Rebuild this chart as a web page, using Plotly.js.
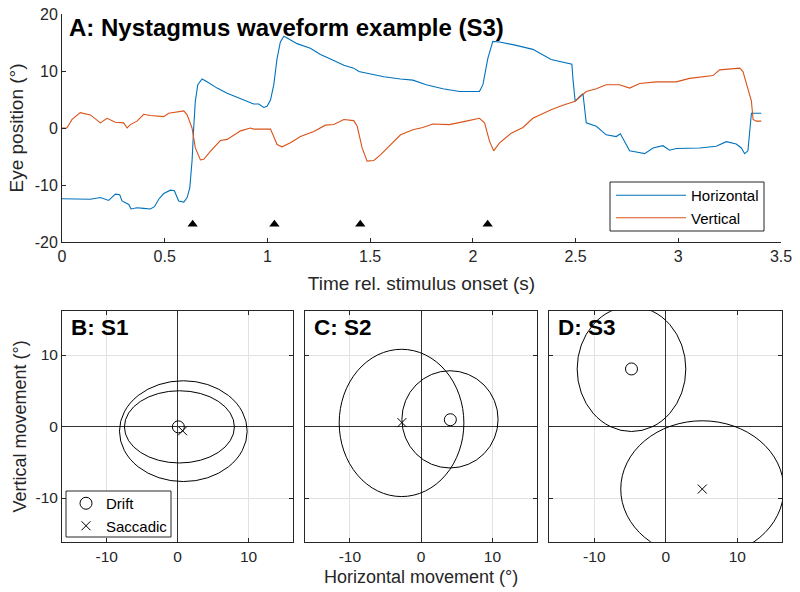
<!DOCTYPE html>
<html>
<head>
<meta charset="utf-8">
<script src="https://cdn.plot.ly/plotly-3.0.1.min.js"></script>
<style>html,body{margin:0;padding:0;background:#fff;}#chart{width:800px;height:592px;}</style>
</head>
<body>
<div id="chart"></div>
<script>
// ---------- Panel A: waveform ----------
const timeH = [
  0, 0.138, 0.187, 0.227, 0.26, 0.281, 0.292, 0.325, 0.336, 0.365,
  0.398, 0.43, 0.45, 0.471, 0.495, 0.528, 0.547, 0.568, 0.593, 0.609,
  0.622, 0.633, 0.641, 0.649, 0.661, 0.682, 0.706, 0.755, 0.804, 0.869,
  0.933, 0.958, 0.982, 0.998, 1.015, 1.031, 1.047, 1.063, 1.08, 1.096,
  1.144, 1.209, 1.258, 1.307, 1.372, 1.42, 1.445, 1.485, 1.567, 1.648,
  1.708, 1.773, 1.854, 1.935, 2.032, 2.049, 2.073, 2.097, 2.13, 2.211,
  2.292, 2.381, 2.482, 2.487, 2.498, 2.519, 2.536, 2.552, 2.601, 2.649,
  2.698, 2.718, 2.739, 2.763, 2.795, 2.836, 2.877, 2.909, 2.925, 2.958,
  2.99, 3.104, 3.185, 3.234, 3.282, 3.307, 3.323, 3.339, 3.356, 3.404
];
const horizontal = [
  -12.4, -12.5, -12.2, -12.7, -11.6, -11.7, -12.8, -13.4, -14.2, -14.0,
  -14.1, -14.2, -13.8, -12.5, -11.5, -10.9, -11.0, -12.8, -13.0, -12.2,
  -10.5, -5.8, 0, 4.7, 7.6, 8.6, 8.1, 7.0, 6.1, 5.2,
  4.2, 4.2, 3.6, 3.8, 4.9, 7.6, 12.2, 15.1, 16.1, 15.8,
  14.8, 14.0, 12.9, 12.1, 11.0, 10.5, 9.9, 9.6, 9.0, 8.6,
  8.4, 7.6, 6.9, 6.4, 6.4, 7.6, 12.2, 15.2, 15.1, 14.5,
  13.8, 12.0, 11.2, 8.7, 4.7, 5.5, 6.0, 0.9, 0.3, -1.2,
  -1.5, -1.0, -2.3, -4.0, -4.2, -4.5, -3.5, -3.3, -3.1, -3.9,
  -3.6, -3.5, -3.2, -2.4, -2.8, -3.5, -4.5, -4.0, 2.6, 2.6
];
const timeV = [
  0, 0.024, 0.049, 0.089, 0.138, 0.187, 0.219, 0.26, 0.3, 0.317,
  0.333, 0.365, 0.398, 0.43, 0.495, 0.519, 0.593, 0.609, 0.633, 0.649,
  0.674, 0.69, 0.722, 0.771, 0.804, 0.836, 0.869, 0.917, 0.933, 1.015,
  1.047, 1.071, 1.112, 1.161, 1.226, 1.282, 1.323, 1.372, 1.42, 1.437,
  1.461, 1.485, 1.518, 1.55, 1.583, 1.615, 1.648, 1.708, 1.756, 1.805,
  1.886, 1.968, 2.032, 2.057, 2.081, 2.101, 2.13, 2.187, 2.244, 2.292,
  2.341, 2.381, 2.438, 2.498, 2.552, 2.601, 2.649, 2.714, 2.763, 2.812,
  2.893, 2.99, 3.055, 3.169, 3.201, 3.299, 3.315, 3.339, 3.356, 3.364,
  3.38, 3.404
];
const vertical = [
  0, 0, 1.5, 2.7, 2.3, 0.9, 1.7, 1.0, 0.9, 0,
  0.6, 1.2, 2.4, 2.2, 2.0, 2.6, 3.0, 2.3, 0, -3.5,
  -5.6, -5.5, -4.1, -2.2, -2.0, -1.2, -0.5, 0, -0.2, -0.2,
  -2.9, -3.3, -2.6, -1.5, -0.6, 0.5, 0.6, 1.5, 1.3, 0.3,
  -3.5, -5.8, -5.7, -4.7, -3.5, -2.3, -1.2, -0.3, 0.1, 0.7,
  0.6, 1.2, 1.7, 0.9, -2.3, -4.0, -2.6, -0.9, 0.1, 1.7,
  2.6, 3.2, 4.0, 4.7, 6.4, 6.9, 7.6, 7.6, 7.0, 7.8,
  8.1, 8.1, 8.7, 9.2, 10.2, 10.5, 9.9, 7.0, 4.7, 1.5,
  1.2, 1.2
];
const saccadeTimes = [0.636, 1.034, 1.452, 2.072];
const saccadeMarkY = [-16.9, -16.9, -16.9, -16.9];

const xTicksA = [0, 0.5, 1, 1.5, 2, 2.5, 3, 3.5];
const xTickTextA = ['0', '0.5', '1', '1.5', '2', '2.5', '3', '3.5'];
const yTicksA = [-20, -10, 0, 10, 20];
const yTickTextA = ['-20', '-10', '0', '10', '20'];

// ---------- Panels B-D: drift / saccadic summary ----------
const panelNames = ['B: S1', 'C: S2', 'D: S3'];
const driftMeanX = [0.1, 4.1, -4.8];
const driftMeanY = [-0.05, 0.95, 8.05];
const saccMeanX = [0.7, -2.7, 5.1];
const saccMeanY = [-0.6, 0.55, -8.75];
// ellipse centres and semi-axes (degrees)
const driftEllCX = [0.25, 4.05, -4.8];
const driftEllCY = [-0.05, 1.0, 8.05];
const driftEllRX = [7.75, 6.75, 7.6];
const driftEllRY = [5.05, 6.8, 8.75];
const saccEllCX = [0.8, -2.75, 5.1];
const saccEllCY = [-0.65, 0.5, -8.75];
const saccEllRX = [9.0, 8.75, 11.4];
const saccEllRY = [7.05, 10.3, 9.55];

const ticksBD = [-10, 0, 10];
const tickTextBD = ['-10', '0', '10'];

// ---------- styling ----------
const FONT = 'Liberation Sans, Arial, Helvetica, sans-serif';
const AX = '#262626';
const BLUE = '#0072BD';
const ORANGE = '#D95319';

const traces = [
  {x: timeH, y: horizontal, type: 'scatter', mode: 'lines', name: 'Horizontal',
   line: {color: BLUE, width: 1.1}, xaxis: 'x', yaxis: 'y', legend: 'legend'},
  {x: timeV, y: vertical, type: 'scatter', mode: 'lines', name: 'Vertical',
   line: {color: ORANGE, width: 1.1}, xaxis: 'x', yaxis: 'y', legend: 'legend'},
  {x: saccadeTimes, y: saccadeMarkY, type: 'scatter', mode: 'markers', showlegend: false,
   marker: {symbol: 'triangle-up', size: 9, color: '#000'}, xaxis: 'x', yaxis: 'y'}
];

// legend frames (MATLAB-style boxes) in pixel terms of the 800x592 figure
const px = v => v / 800, py = v => 1 - v / 592;
const shapes = [
  {type: 'rect', xref: 'paper', yref: 'paper', x0: px(610), x1: px(764), y0: py(231), y1: py(182),
   fillcolor: '#fff', line: {color: AX, width: 1}, layer: 'above'},
  {type: 'rect', xref: 'paper', yref: 'paper', x0: px(66), x1: px(171), y0: py(537), y1: py(491),
   fillcolor: '#fff', line: {color: AX, width: 1}, layer: 'above'}
];
const annotations = [];
const bottomDomainsX = [[0.0775, 0.3666], [0.38125, 0.6716], [0.6866, 0.9779]];
const bottomDomainY = [0.0839, 0.4752];
const layout = {
  width: 800, height: 592,
  margin: {l: 0, r: 0, t: 0, b: 0},
  paper_bgcolor: '#fff', plot_bgcolor: '#fff',
  font: {family: FONT, size: 15, color: AX},
  showlegend: true,
  xaxis: {domain: [0.0775, 0.97625], range: [0, 3.5], anchor: 'y',
    tickvals: xTicksA, ticktext: xTickTextA, ticks: 'inside', ticklen: 4, tickcolor: AX,
    showline: true, linecolor: AX, linewidth: 1, showgrid: false, zeroline: false,
    tickfont: {size: 16, color: AX},
    title: {text: 'Time rel. stimulus onset (s)', font: {size: 19, color: AX}, standoff: 12}},
  yaxis: {domain: [0.5912, 0.97635], range: [-20, 20], anchor: 'x',
    tickvals: yTicksA, ticktext: yTickTextA, ticks: 'inside', ticklen: 4, tickcolor: AX,
    showline: true, linecolor: AX, linewidth: 1, showgrid: false, zeroline: false,
    tickfont: {size: 16, color: AX},
    title: {text: 'Eye position (°)', font: {size: 19, color: AX}, standoff: 6}},
  legend: {x: px(611), y: py(179), xanchor: 'left', yanchor: 'top',
    bgcolor: 'rgba(0,0,0,0)', borderwidth: 0, itemwidth: 70,
    font: {size: 15, color: '#000'}, tracegroupgap: 0},
  legend2: {x: px(66), y: py(487), xanchor: 'left', yanchor: 'top',
    bgcolor: 'rgba(0,0,0,0)', borderwidth: 0, itemwidth: 30,
    font: {size: 15, color: '#000'}, tracegroupgap: 0},
  shapes: shapes,
  annotations: annotations
};

annotations.push({xref: 'paper', yref: 'paper', x: 67 / 800, y: 1 - 27 / 592,
  xanchor: 'left', yanchor: 'middle', showarrow: false,
  text: '<b>A: Nystagmus waveform example (S3)</b>', font: {family: FONT, size: 24, color: '#000'}});

for (let i = 0; i < 3; i++) {
  const n = i + 2;
  const xa = 'xaxis' + n, ya = 'yaxis' + n;
  const xr = 'x' + n, yr = 'y' + n;
  layout[xa] = {domain: bottomDomainsX[i], range: [-16.3, 16.3], anchor: yr,
    tickvals: ticksBD, ticktext: tickTextBD, ticks: 'inside', ticklen: 4, tickcolor: AX,
    showline: true, mirror: 'ticks', linecolor: AX, linewidth: 1,
    showgrid: true, gridcolor: '#e2e2e2', gridwidth: 1,
    zeroline: true, zerolinecolor: '#333', zerolinewidth: 1,
    tickfont: {size: 15.5, color: AX}};
  layout[ya] = {domain: bottomDomainY, range: [-16.2, 16.2], anchor: xr,
    tickvals: ticksBD, ticktext: tickTextBD, ticks: 'inside', ticklen: 4, tickcolor: AX,
    showline: true, mirror: 'ticks', linecolor: AX, linewidth: 1,
    showgrid: true, gridcolor: '#e2e2e2', gridwidth: 1,
    zeroline: true, zerolinecolor: '#333', zerolinewidth: 1,
    showticklabels: i === 0, tickfont: {size: 15.5, color: AX}};
  if (i === 0) layout[ya].title = {text: 'Vertical movement (°)', font: {size: 18, color: AX}, standoff: 4};
  if (i === 1) layout[xa].title = {text: 'Horizontal movement (°)', font: {size: 18, color: AX}, standoff: 6};

  shapes.push({type: 'circle', xref: xr, yref: yr,
    x0: driftEllCX[i] - driftEllRX[i], x1: driftEllCX[i] + driftEllRX[i],
    y0: driftEllCY[i] - driftEllRY[i], y1: driftEllCY[i] + driftEllRY[i],
    line: {color: '#000', width: 1}});
  shapes.push({type: 'circle', xref: xr, yref: yr,
    x0: saccEllCX[i] - saccEllRX[i], x1: saccEllCX[i] + saccEllRX[i],
    y0: saccEllCY[i] - saccEllRY[i], y1: saccEllCY[i] + saccEllRY[i],
    line: {color: '#000', width: 1}});

  traces.push({x: [driftMeanX[i]], y: [driftMeanY[i]], type: 'scatter', mode: 'markers',
    name: 'Drift', showlegend: i === 0, legend: 'legend2', xaxis: xr, yaxis: yr,
    marker: {symbol: 'circle-open', size: 12, color: '#000', line: {width: 1}}});
  traces.push({x: [saccMeanX[i]], y: [saccMeanY[i]], type: 'scatter', mode: 'markers',
    name: 'Saccadic', showlegend: i === 0, legend: 'legend2', xaxis: xr, yaxis: yr,
    marker: {symbol: 'x-thin-open', size: 9, color: '#000', line: {width: 1, color: '#000'}}});

  annotations.push({xref: 'paper', yref: 'paper',
    x: (bottomDomainsX[i][0] * 800 + 7) / 800, y: 1 - 327 / 592,
    xanchor: 'left', yanchor: 'middle', showarrow: false,
    text: '<b>' + panelNames[i] + '</b>', font: {family: FONT, size: 22.5, color: '#000'}});
}

Plotly.newPlot('chart', traces, layout, {displayModeBar: false, staticPlot: true});
</script>
</body>
</html>
